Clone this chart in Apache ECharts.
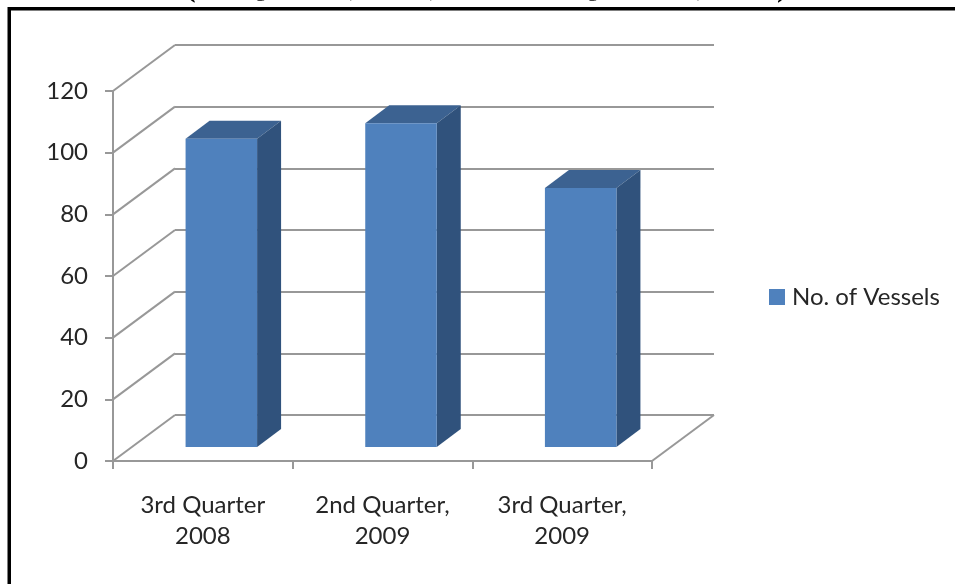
<!DOCTYPE html>
<html>
<head>
<meta charset="utf-8">
<style>html,body{margin:0;padding:0;background:#fff;overflow:hidden}#c{width:955px;height:584px;filter:blur(0.5px)}</style>
<script src="https://cdn.jsdelivr.net/npm/echarts@6/dist/echarts.min.js"></script>
</head>
<body>
<div id="c"></div>
<script>
const categories = ['3rd Quarter\n2008', '2nd Quarter,\n2009', '3rd Quarter,\n2009'];
const vessels = [100, 105, 84];
const yTicks = [0, 20, 40, 60, 80, 100, 120];
const seriesName = 'No. of Vessels';

const WALL = { dx: 62, dy: -46 };
const BAR = { inX: 18.5, inY: -14, depthX: 24, depthY: -18, ratio: 0.398 };
const LINE = '#989898';
const TEXT = '#262626';
const FONT = 'Lato';

const chart = echarts.init(document.getElementById('c'), null, { renderer: 'canvas' });

function seg(x1, y1, x2, y2) {
  return { type: 'line', shape: { x1, y1, x2, y2 }, style: { stroke: LINE, lineWidth: 2 } };
}

chart.setOption({
  animation: false,
  backgroundColor: '#fff',
  title: {
    left: 185, top: -28, padding: 0,
    text: '{m|(3}{s|rd}{m| Quarter, 2008, 2}{s|nd}{m| & 3}{s|rd}{m| Quarters, 2009)}',
    textStyle: {
      rich: {
        m: { fontFamily: 'Liberation Serif', fontWeight: 'bold', fontSize: 32, color: '#000' },
        s: { fontFamily: 'Liberation Serif', fontWeight: 'bold', fontSize: 21, color: '#000' }
      }
    }
  },
  legend: {
    data: [seriesName], orient: 'vertical', left: 769, top: 285,
    itemWidth: 16, itemHeight: 16, itemGap: 0, padding: 0,
    icon: 'rect',
    textStyle: { fontFamily: FONT, fontSize: 24, color: TEXT, padding: [2, 0, 0, 2] }
  },
  grid: [
    { left: 113, width: 539, top: 91, height: 370 },
    { left: 113 + WALL.dx, width: 539, top: 91 + WALL.dy, height: 370 }
  ],
  xAxis: [
    {
      type: 'category', gridIndex: 0, data: categories,
      axisLine: { lineStyle: { color: LINE, width: 2 } },
      axisTick: { show: true, length: 8, lineStyle: { color: LINE, width: 2 } },
      axisLabel: { fontFamily: FONT, fontSize: 24, color: TEXT, lineHeight: 31, margin: 29, interval: 0 }
    },
    { type: 'value', gridIndex: 1, min: 0, max: 1, show: false }
  ],
  yAxis: [
    {
      type: 'value', gridIndex: 0, min: 0, max: 120, interval: 20,
      axisLine: { show: true, lineStyle: { color: LINE, width: 2 } },
      axisTick: { show: true, length: 8, lineStyle: { color: LINE, width: 2 } },
      axisLabel: { fontFamily: FONT, fontSize: 24, color: TEXT, margin: 25 },
      splitLine: { show: false }
    },
    {
      type: 'value', gridIndex: 1, min: 0, max: 120, interval: 20,
      axisLine: { show: false }, axisTick: { show: false }, axisLabel: { show: false },
      splitLine: { show: true, lineStyle: { color: LINE, width: 2 } }
    }
  ],
  series: [
    {
      name: 'walls', type: 'custom', xAxisIndex: 0, yAxisIndex: 0, z: 1, silent: true,
      data: yTicks.map(v => [0, v]),
      renderItem(params, api) {
        const p = api.coord([0, api.value(1)]);
        const half = api.size([1, 0])[0] / 2;
        const x = p[0] - half, y = p[1];
        const kids = [seg(x, y, x + WALL.dx, y + WALL.dy)];
        if (api.value(1) === 0) {
          const xr = x + half * 2 * categories.length;
          kids.push(seg(xr, y, xr + WALL.dx, y + WALL.dy));
        }
        return { type: 'group', children: kids };
      }
    },
    {
      name: seriesName, type: 'custom', xAxisIndex: 0, yAxisIndex: 0, z: 3,
      itemStyle: { color: '#4F81BD' },
      encode: { x: 0, y: 1 },
      data: vessels.map((v, i) => [i, v]),
      renderItem(params, api) {
        const top = api.coord([api.value(0), api.value(1)]);
        const base = api.coord([api.value(0), 0]);
        const w = api.size([1, 0])[0] * BAR.ratio;
        const x0 = top[0] - w / 2 + BAR.inX, x1 = x0 + w;
        const yt = top[1] + BAR.inY, yb = base[1] + BAR.inY;
        const dx = BAR.depthX, dy = BAR.depthY;
        return {
          type: 'group',
          children: [
            { type: 'polygon', shape: { points: [[x0, yt], [x1, yt], [x1 + dx, yt + dy], [x0 + dx, yt + dy]] }, style: { fill: '#3C6291' } },
            { type: 'polygon', shape: { points: [[x1, yt], [x1 + dx, yt + dy], [x1 + dx, yb + dy], [x1, yb]] }, style: { fill: '#30527C' } },
            { type: 'rect', shape: { x: x0, y: yt, width: w, height: yb - yt }, style: { fill: '#4F81BD' } }
          ]
        };
      }
    }
  ],
  graphic: [
    { type: 'line', shape: { x1: 9, y1: 8.75, x2: 960, y2: 8.75 }, style: { stroke: '#000', lineWidth: 3.5 }, z: 10 },
    { type: 'line', shape: { x1: 9.25, y1: 7, x2: 9.25, y2: 590 }, style: { stroke: '#000', lineWidth: 3.5 }, z: 10 }
  ]
});
</script>
</body>
</html>
